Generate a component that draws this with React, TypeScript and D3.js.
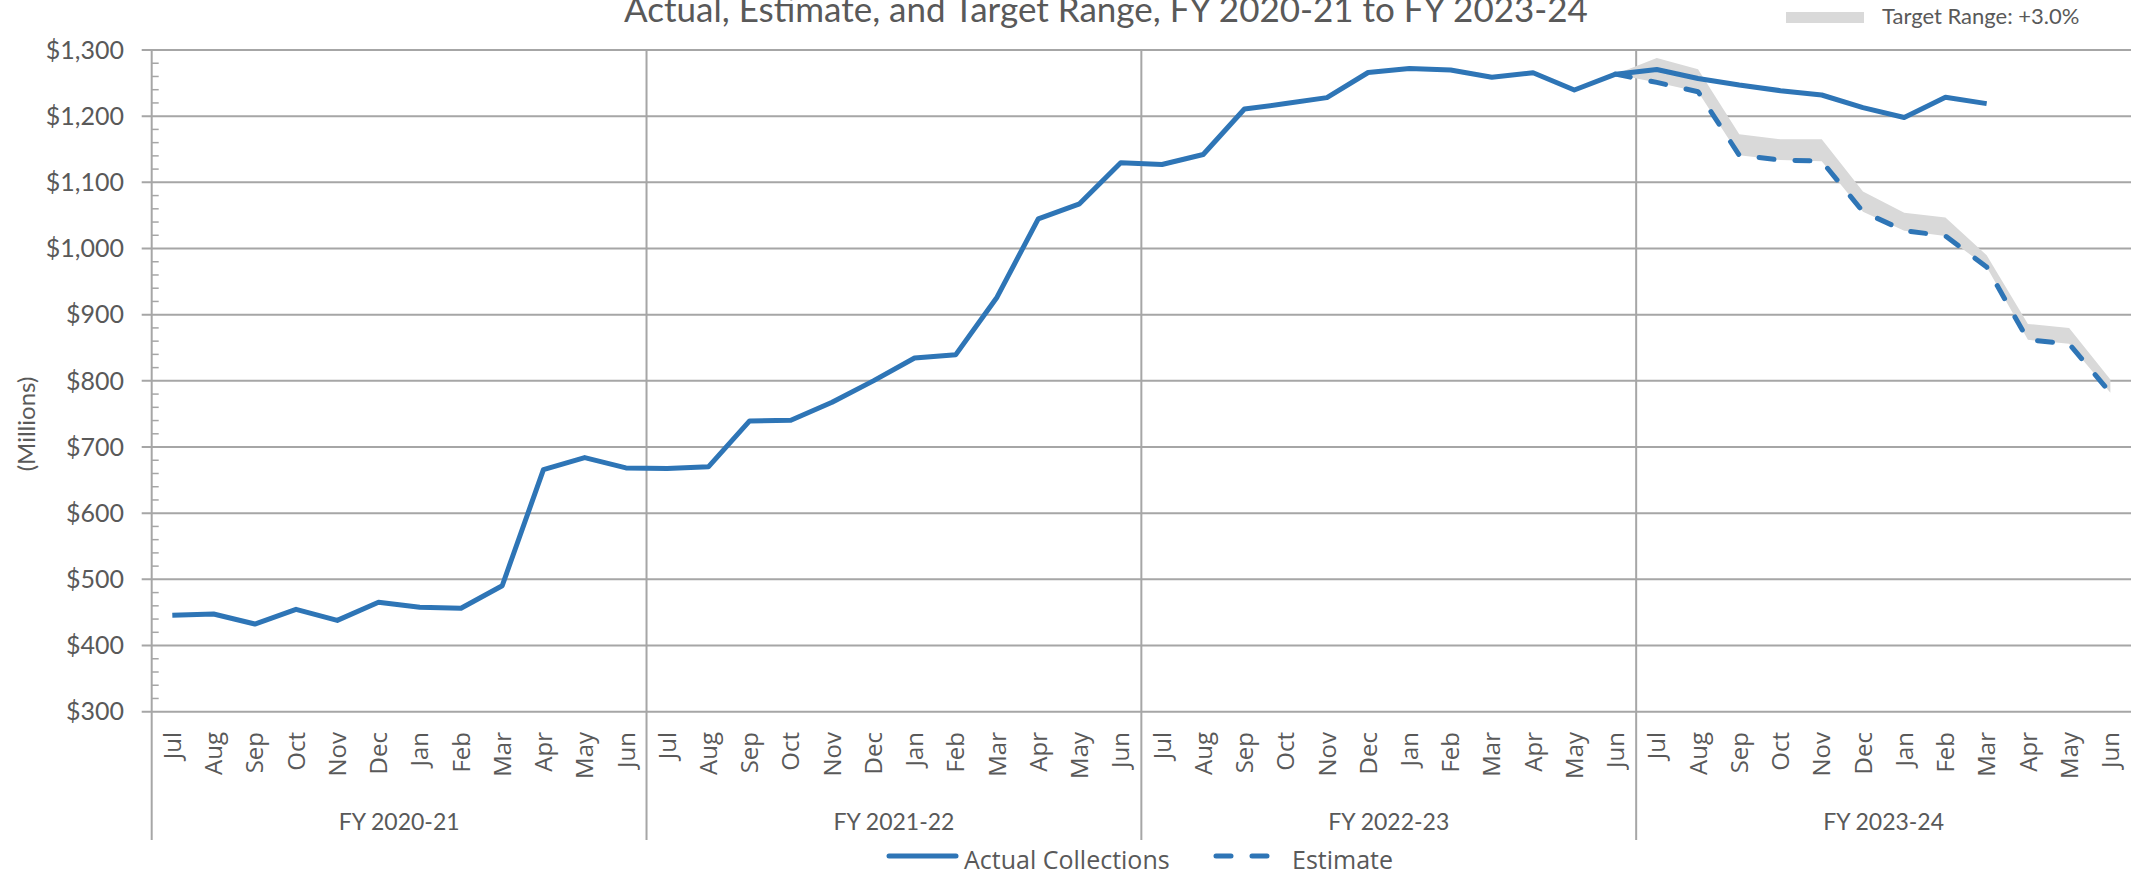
import React, { useEffect, useRef } from "react";
import * as d3 from "d3";

// month labels, repeated for each fiscal year
const months = ["Jul", "Aug", "Sep", "Oct", "Nov", "Dec", "Jan", "Feb", "Mar", "Apr", "May", "Jun"];
const fiscalYears = ["FY 2020-21", "FY 2021-22", "FY 2022-23", "FY 2023-24"];

// actual collections ($ millions), Jul 2020 .. Mar 2024
const actual = [
  445.6, 447.6, 432.5, 454.7, 438, 465.3, 457.8, 456.3, 490.4, 665.8, 684, 668.4,
  667.5, 670, 739.5, 740.5, 767.6, 800, 834.6, 839.6, 926.4, 1044.9, 1067.6, 1129.5,
  1127, 1142, 1210.8, 1219, 1228, 1266, 1272, 1269.8, 1258.7, 1265.7, 1239.5, 1263.5,
  1270.5, 1257, 1247, 1238.5, 1232, 1213, 1198, 1228.5, 1219,
];

// estimate and top of target range, Jun 2023 .. Jun 2024
const estimateStart = 35;
const estimate = [1263.5, 1251, 1237, 1141, 1133.6, 1132, 1055.6, 1027, 1019, 972, 862, 856, 782];
const targetUpper = [1263.5, 1288, 1271, 1172.5, 1165, 1165, 1086, 1054, 1047, 990, 886, 880, 802];

const yTicks = [300, 400, 500, 600, 700, 800, 900, 1000, 1100, 1200, 1300];

const W = 2131, H = 876;
const BLUE = "#2E75B6";
const GRID = "#a6a6a6";
const TXT = "#595959";

export default function App() {
  const ref = useRef<SVGSVGElement>(null);

  useEffect(() => {
    const svg = d3.select(ref.current);
    svg.selectAll("*").remove();

    const left = 151.7, top = 50, bottom = 711.7, axisEnd = 840;
    const cats = d3.range(fiscalYears.length * months.length);

    const x = d3.scaleBand<number>().domain(cats).range([left, W]).padding(0);
    const cx = (i: number) => (x(i) as number) + x.bandwidth() / 2;
    const y = d3.scaleLinear().domain([300, 1300]).range([bottom, top]);

    // horizontal gridlines + major ticks
    const g = svg.append("g");
    g.selectAll(".hgrid").data(yTicks).join("line")
      .attr("x1", left - 10).attr("x2", W)
      .attr("y1", d => y(d)).attr("y2", d => y(d))
      .attr("stroke", GRID).attr("stroke-width", 2);

    // minor ticks inside axis
    const minor = d3.range(300, 1300, 20).filter(v => v % 100 !== 0);
    g.selectAll(".minor").data(minor).join("line")
      .attr("x1", left).attr("x2", left + 7)
      .attr("y1", d => y(d)).attr("y2", d => y(d))
      .attr("stroke", GRID).attr("stroke-width", 1.5);

    // axis line and fiscal year dividers
    const dividers = [0, 12, 24, 36].map(i => x(i) as number);
    g.selectAll(".vdiv").data(dividers).join("line")
      .attr("x1", d => d).attr("x2", d => d)
      .attr("y1", top).attr("y2", axisEnd)
      .attr("stroke", GRID).attr("stroke-width", 2);

    // y tick labels
    svg.append("g").selectAll("text").data(yTicks).join("text")
      .attr("x", 124).attr("y", d => y(d)).attr("dy", "0.35em")
      .attr("text-anchor", "end")
      .style("font-family", "Lato").style("font-size", "25px").attr("fill", TXT)
      .text(d => d3.format("$,")(d));

    // month labels
    svg.append("g").selectAll("text").data(cats).join("text")
      .attr("transform", d => `translate(${cx(d)},732) rotate(-90)`)
      .attr("dy", "0.36em")
      .attr("text-anchor", "end")
      .style("font-family", "Open Sans").style("font-size", "24px").attr("fill", TXT)
      .text(d => months[d % 12]);

    // fiscal year labels
    svg.append("g").selectAll("text").data(fiscalYears).join("text")
      .attr("x", (d, i) => (dividers[i] + (i < 3 ? dividers[i + 1] : W)) / 2)
      .attr("y", 830)
      .attr("text-anchor", "middle")
      .style("font-family", "Lato").style("font-size", "23px").attr("fill", TXT)
      .text(d => d);

    // target range band
    const rangeData = estimate.map((v, k) => ({ i: estimateStart + k, lo: v, hi: targetUpper[k] }));
    svg.append("path").datum(rangeData)
      .attr("d", d3.area<any>().x(d => cx(d.i)).y0(d => y(d.lo)).y1(d => y(d.hi)))
      .attr("fill", "#d9d9d9");

    // actual collections
    svg.append("path").datum(actual)
      .attr("d", d3.line<number>().x((d, i) => cx(i)).y(d => y(d)))
      .attr("fill", "none").attr("stroke", BLUE).attr("stroke-width", 5)
      .attr("stroke-linejoin", "round");

    // estimate
    svg.append("path").datum(estimate)
      .attr("d", d3.line<number>().x((d, k) => cx(estimateStart + k)).y(d => y(d)))
      .attr("fill", "none").attr("stroke", BLUE).attr("stroke-width", 5)
      .attr("stroke-dasharray", "15,21").attr("stroke-linecap", "round")
      .attr("stroke-linejoin", "round");

    // title (sits against the top edge, as in the original)
    svg.append("text")
      .attr("x", 1106).attr("y", 22).attr("text-anchor", "middle")
      .style("font-family", "Lato").style("font-size", "35px").attr("fill", TXT)
      .text("Actual, Estimate, and Target Range, FY 2020-21 to FY 2023-24");

    // y axis title
    svg.append("text")
      .attr("transform", "translate(27,424) rotate(-90)")
      .attr("text-anchor", "middle").attr("dy", "0.35em")
      .style("font-family", "Lato").style("font-size", "24px").attr("fill", TXT)
      .text("(Millions)");

    // top legend
    svg.append("rect").attr("x", 1786).attr("y", 12).attr("width", 78).attr("height", 11)
      .attr("fill", "#d9d9d9");
    svg.append("text").attr("x", 1882).attr("y", 24)
      .style("font-family", "Lato").style("font-size", "22px").attr("fill", TXT)
      .text("Target Range: +3.0%");

    // bottom legend
    const lg = svg.append("g");
    lg.append("line").attr("x1", 889).attr("x2", 956).attr("y1", 856).attr("y2", 856)
      .attr("stroke", BLUE).attr("stroke-width", 5).attr("stroke-linecap", "round");
    lg.append("text").attr("x", 964).attr("y", 869)
      .style("font-family", "Open Sans").style("font-size", "25px").attr("fill", TXT)
      .text("Actual Collections");
    lg.append("line").attr("x1", 1216).attr("x2", 1268).attr("y1", 856).attr("y2", 856)
      .attr("stroke", BLUE).attr("stroke-width", 5).attr("stroke-linecap", "round")
      .attr("stroke-dasharray", "15,21");
    lg.append("text").attr("x", 1292).attr("y", 869)
      .style("font-family", "Open Sans").style("font-size", "25px").attr("fill", TXT)
      .text("Estimate");
  }, []);

  return (
    <svg ref={ref} width={W} height={H}
      style={{ position: "absolute", left: 0, top: 0, background: "#fff" }} />
  );
}
